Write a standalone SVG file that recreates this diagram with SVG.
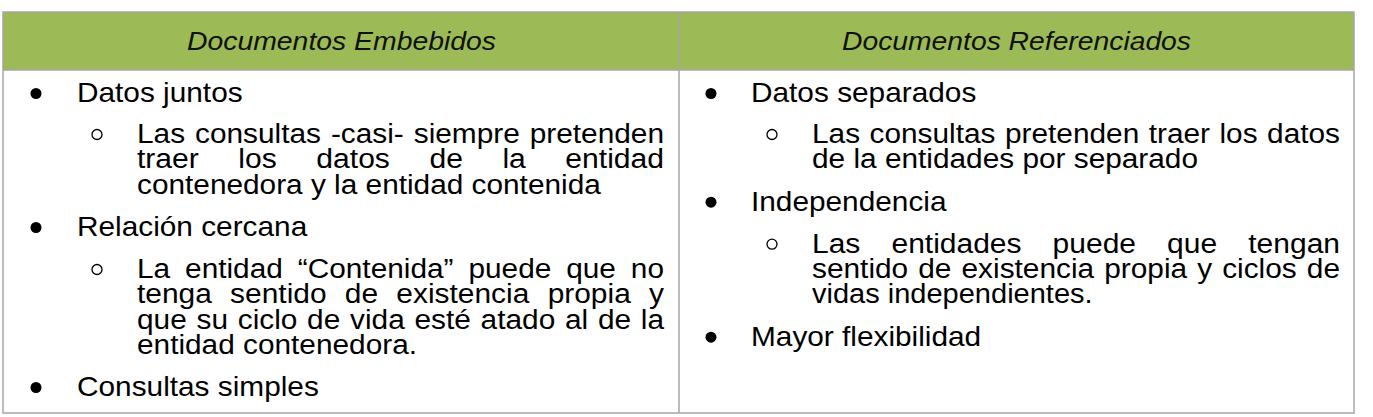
<svg xmlns="http://www.w3.org/2000/svg" width="1373" height="417" viewBox="0 0 1373 417">
  <style>
    .hdr { fill: #9cbb56; }
    .grid { fill: none; stroke: #a6a6a6; stroke-width: 1.5; }
    .htxt { font-family: "Liberation Sans", Arial, sans-serif; font-style: italic; font-size: 26px; fill: #111; text-anchor: middle; }
    .t { font-family: "Liberation Sans", Arial, sans-serif; font-size: 28px; fill: #000; }
    .s { font-family: "Liberation Sans", Arial, sans-serif; font-size: 27px; fill: #000; }
    .b { fill: #000; }
    .sb { fill: none; stroke: #000; stroke-width: 1.3; }
  </style>
  <rect x="0" y="0" width="1373" height="417" fill="#ffffff"/>

  <g id="header-left">
    <rect class="hdr" x="3" y="12" width="676" height="58"/>
    <text class="htxt" x="341.5" y="50" textLength="309" lengthAdjust="spacingAndGlyphs">Documentos Embebidos</text>
  </g>
  <g id="header-right">
    <rect class="hdr" x="679" y="12" width="675" height="58"/>
    <text class="htxt" x="1016.5" y="50" textLength="349" lengthAdjust="spacingAndGlyphs">Documentos Referenciados</text>
  </g>

  <g id="grid">
    <rect class="grid" x="3" y="12" width="1351" height="401"/>
    <line class="grid" x1="3" y1="70" x2="1354" y2="70"/>
    <line class="grid" x1="679" y1="12" x2="679" y2="413"/>
  </g>

  <g id="cell-left">
    <circle class="b" cx="36" cy="93.5" r="5.5"/>
    <text class="t" x="77" y="102" textLength="165.6" lengthAdjust="spacingAndGlyphs">Datos juntos</text>
    <circle class="sb" cx="97" cy="134.5" r="5"/>
    <text class="s" x="137" y="143" textLength="527" lengthAdjust="spacingAndGlyphs" word-spacing="1.5">Las consultas -casi- siempre pretenden</text>
    <text class="s" x="137" y="168.3" textLength="527" lengthAdjust="spacingAndGlyphs" word-spacing="28">traer los datos de la entidad</text>
    <text class="s" x="137" y="193.6" textLength="463.8" lengthAdjust="spacingAndGlyphs">contenedora y la entidad contenida</text>

    <circle class="b" cx="36" cy="227.5" r="5.5"/>
    <text class="t" x="77" y="236" textLength="230.2" lengthAdjust="spacingAndGlyphs">Relación cercana</text>
    <circle class="sb" cx="97" cy="269.5" r="5"/>
    <text class="s" x="137" y="278" textLength="527" lengthAdjust="spacingAndGlyphs" word-spacing="6">La entidad “Contenida” puede que no</text>
    <text class="s" x="137" y="303.3" textLength="527" lengthAdjust="spacingAndGlyphs" word-spacing="9">tenga sentido de existencia propia y</text>
    <text class="s" x="137" y="328.6" textLength="527" lengthAdjust="spacingAndGlyphs" word-spacing="1.3">que su ciclo de vida esté atado al de la</text>
    <text class="s" x="137" y="354" textLength="280" lengthAdjust="spacingAndGlyphs">entidad contenedora.</text>

    <circle class="b" cx="36" cy="387.5" r="5.5"/>
    <text class="t" x="77" y="396" textLength="241.8" lengthAdjust="spacingAndGlyphs">Consultas simples</text>
  </g>

  <g id="cell-right">
    <circle class="b" cx="711" cy="93.5" r="5.5"/>
    <text class="t" x="751" y="102" textLength="225.3" lengthAdjust="spacingAndGlyphs">Datos separados</text>
    <circle class="sb" cx="772" cy="134.5" r="5"/>
    <text class="s" x="812" y="143" textLength="528" lengthAdjust="spacingAndGlyphs" word-spacing="1.1">Las consultas pretenden traer los datos</text>
    <text class="s" x="812" y="168.3" textLength="386" lengthAdjust="spacingAndGlyphs">de la entidades por separado</text>

    <circle class="b" cx="711" cy="202.2" r="5.5"/>
    <text class="t" x="751" y="210.7" textLength="195.5" lengthAdjust="spacingAndGlyphs">Independencia</text>
    <circle class="sb" cx="772" cy="244.2" r="5"/>
    <text class="s" x="812" y="252.7" textLength="528" lengthAdjust="spacingAndGlyphs" word-spacing="20.5">Las entidades puede que tengan</text>
    <text class="s" x="812" y="278" textLength="528" lengthAdjust="spacingAndGlyphs" word-spacing="1.6">sentido de existencia propia y ciclos de</text>
    <text class="s" x="812" y="303.3" textLength="280.6" lengthAdjust="spacingAndGlyphs">vidas independientes.</text>

    <circle class="b" cx="711" cy="337.2" r="5.5"/>
    <text class="t" x="751" y="345.7" textLength="230.2" lengthAdjust="spacingAndGlyphs">Mayor flexibilidad</text>
  </g>
</svg>
